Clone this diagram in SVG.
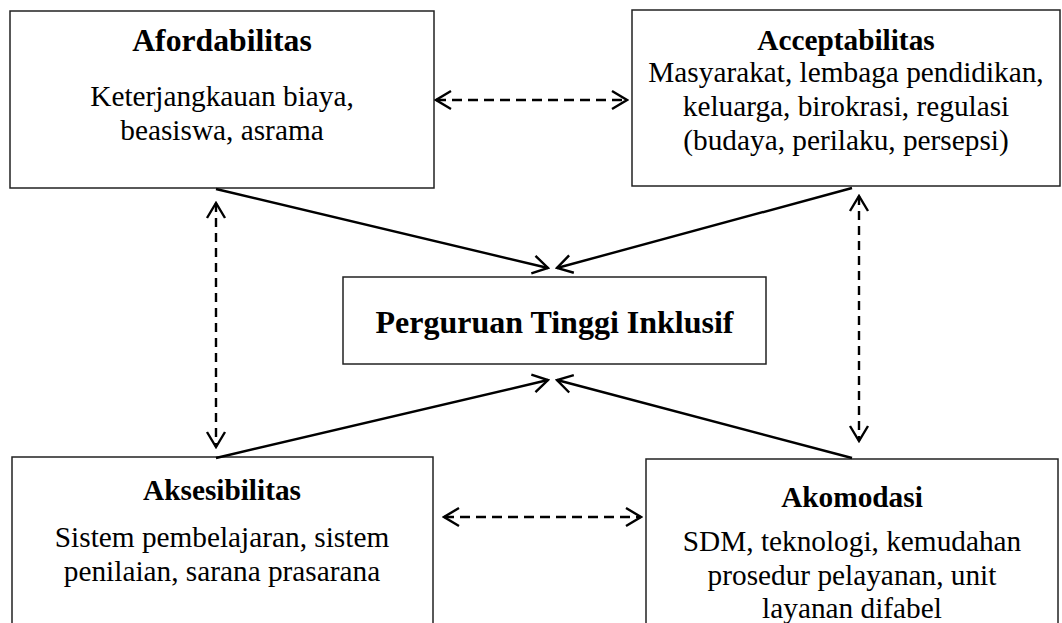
<svg xmlns="http://www.w3.org/2000/svg" width="1062" height="623" viewBox="0 0 1062 623">
<style>
.box{fill:#fff;stroke:#222;stroke-width:1.5}
.t{font-family:"Liberation Serif","Times New Roman",serif;fill:#000;text-anchor:middle}
.b{font-weight:bold;font-size:29.3px}
.r{font-size:29.3px}
.solid{stroke:#000;stroke-width:2.4;fill:none}
.dash{stroke:#000;stroke-width:2.4;fill:none}
.dh{stroke-dasharray:10,6}
.dv{stroke-dasharray:9,6}
</style>
<defs>
<marker id="ah" markerUnits="userSpaceOnUse" viewBox="-18 -11 20 22" refX="0" refY="0" markerWidth="20" markerHeight="22" orient="auto-start-reverse">
<path d="M-15,-9 L0,0 L-15,9" fill="none" stroke="#000" stroke-width="2.4"/>
</marker>
</defs>
<rect width="1062" height="623" fill="#fff"/>
<g id="afordabilitas">
<rect class="box" x="10" y="11" width="424" height="177"/>
<text class="t b" x="222" y="51" style="font-size:31.7px">Afordabilitas</text>
<text class="t r" x="222" y="106">Keterjangkauan biaya,</text>
<text class="t r" x="222" y="140">beasiswa, asrama</text>
</g>
<g id="acceptabilitas">
<rect class="box" x="632" y="10" width="428" height="176"/>
<text class="t b" x="846" y="50">Acceptabilitas</text>
<text class="t r" x="846" y="82">Masyarakat, lembaga pendidikan,</text>
<text class="t r" x="846" y="116">keluarga, birokrasi, regulasi</text>
<text class="t r" x="846" y="150">(budaya, perilaku, persepsi)</text>
</g>
<g id="pti">
<rect class="box" x="343" y="277" width="423" height="87"/>
<text class="t b" x="554.5" y="333" style="font-size:32px">Perguruan Tinggi Inklusif</text>
</g>
<g id="aksesibilitas">
<rect class="box" x="12" y="457" width="421" height="180"/>
<text class="t b" x="222" y="500">Aksesibilitas</text>
<text class="t r" x="222" y="547">Sistem pembelajaran, sistem</text>
<text class="t r" x="222" y="581">penilaian, sarana prasarana</text>
</g>
<g id="akomodasi">
<rect class="box" x="646" y="459" width="412" height="180"/>
<text class="t b" x="852" y="507">Akomodasi</text>
<text class="t r" x="852" y="551">SDM, teknologi, kemudahan</text>
<text class="t r" x="852" y="585">prosedur pelayanan, unit</text>
<text class="t r" x="852" y="618">layanan difabel</text>
</g>
<g id="connectors">
<line class="solid" x1="216" y1="189" x2="548" y2="268" marker-end="url(#ah)"/>
<line class="solid" x1="852" y1="188" x2="557" y2="268" marker-end="url(#ah)"/>
<line class="solid" x1="216" y1="458" x2="548" y2="380" marker-end="url(#ah)"/>
<line class="solid" x1="852" y1="458" x2="557" y2="380" marker-end="url(#ah)"/>
<line class="dash dv" x1="216" y1="203" x2="216" y2="447" marker-start="url(#ah)" marker-end="url(#ah)"/>
<line class="dash dv" x1="859" y1="196" x2="859" y2="441" marker-start="url(#ah)" marker-end="url(#ah)"/>
<line class="dash dh" x1="436" y1="100" x2="627" y2="100" marker-start="url(#ah)" marker-end="url(#ah)"/>
<line class="dash dh" x1="444" y1="517" x2="641" y2="517" marker-start="url(#ah)" marker-end="url(#ah)"/>
</g>
</svg>
